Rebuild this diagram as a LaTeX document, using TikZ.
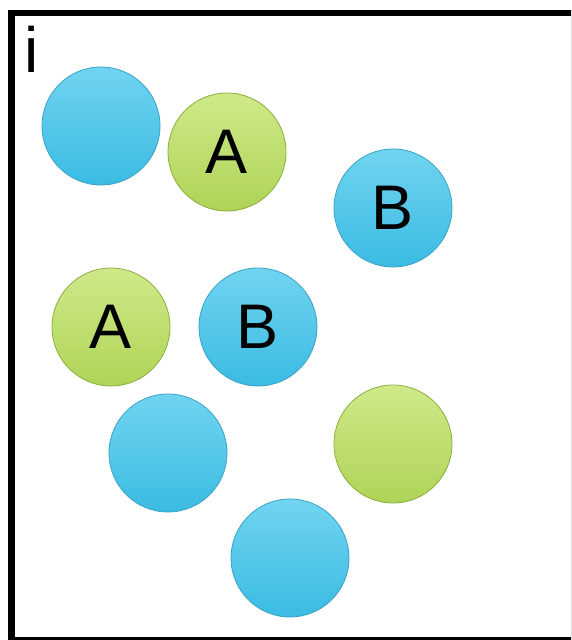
\documentclass[tikz,border=0pt]{standalone}
\usepackage{fontspec}
\setmainfont{Liberation Sans}
\definecolor{bluetop}{HTML}{70D4F0}
\definecolor{bluebot}{HTML}{3BBBE3}
\definecolor{blueedge}{HTML}{3AA2C6}
\definecolor{greentop}{HTML}{CFE98A}
\definecolor{greenbot}{HTML}{AED456}
\definecolor{greenedge}{HTML}{8AAE3E}
\tikzset{
  ball/.style={circle, minimum size=118pt, inner sep=0pt, line width=0.8pt,
    font=\fontsize{63}{63}\selectfont, text=black},
  blueball/.style={ball, draw=blueedge, top color=bluetop, bottom color=bluebot},
  greenball/.style={ball, draw=greenedge, top color=greentop, bottom color=greenbot},
}
\begin{document}
\begin{tikzpicture}[x=1pt, y=-1pt]
\useasboundingbox (0,0) rectangle (571,640);
\clip (0,0) rectangle (571,640);
\fill[white] (0,0) rectangle (571,640);
% frame
\draw[line width=6.5pt] (11.5,13) rectangle (574,640.5);
% panel label
\node[anchor=base west, inner sep=0pt, font=\fontsize{64}{64}\selectfont] (lbl) at (24,72) {i};
% particles
\node[blueball]  (b1) at (101,126) {};
\node[greenball] (a1) at (227,152) {A};
\node[blueball]  (b2) at (393,208) {B};
\node[greenball] (a2) at (111,327) {A};
\node[blueball]  (b3) at (258,327) {B};
\node[blueball]  (b4) at (168,453) {};
\node[greenball] (g1) at (393,444) {};
\node[blueball]  (b5) at (290,558) {};
\end{tikzpicture}
\end{document}
